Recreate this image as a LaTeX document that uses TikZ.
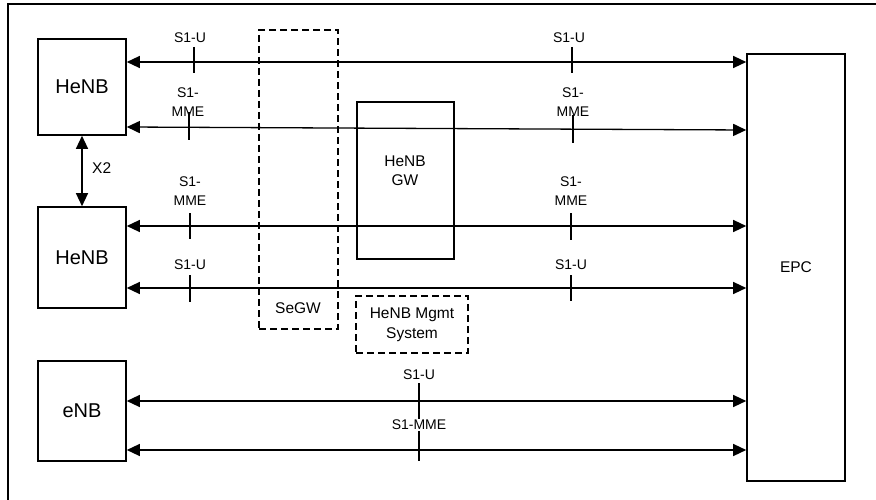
\documentclass[tikz,border=0pt]{standalone}
\usepackage{fontspec}
\setmainfont{Liberation Sans}
\usetikzlibrary{arrows.meta}
\begin{document}
\begin{tikzpicture}[x=1pt,y=-1pt,
  box/.style={draw,line width=1.6pt,inner sep=0pt,font=\fontsize{20}{24}\selectfont},
  dbox/.style={draw,line width=1.3pt,dash pattern=on 7pt off 4pt,inner sep=0pt},
  lbl/.style={inner sep=0pt,align=center,font=\fontsize{14}{19.5}\selectfont},
  mlbl/.style={inner sep=0pt,align=center,font=\fontsize{15.5}{19}\selectfont},
  link/.style={line width=1.3pt,{Triangle[length=13pt,width=12pt]}-{Triangle[length=13pt,width=12pt]}},
  tick/.style={line width=1.3pt}]
\useasboundingbox (0,0) rectangle (876,500);
\draw[line width=1.5pt] (8,500) -- (8,4) -- (876,4);
% boxes
\node[box,minimum width=88pt,minimum height=96pt] (henb1) at (82,87) {HeNB};
\node[box,minimum width=88pt,minimum height=101pt] (henb2) at (82,257.5) {HeNB};
\node[box,minimum width=88pt,minimum height=100pt] (enb) at (82,411) {eNB};
\node[box,minimum width=98pt,minimum height=427pt,font=\fontsize{15.5}{19}\selectfont] (epc) at (796,267.5) {EPC};
\node[dbox,minimum width=79pt,minimum height=299pt] (segw) at (298.5,179.5) {};
\node[mlbl] (segwt) at (298,308) {SeGW};
\node[draw,line width=1.3pt,inner sep=0pt,minimum width=97pt,minimum height=157pt] (gw) at (405.5,180.5) {};
\node[mlbl] (gwt) at (405,171) {HeNB\\GW};
\node[dbox,minimum width=112pt,minimum height=57pt,mlbl,font=\fontsize{15.5}{20}\selectfont] (mgmt) at (412,324.5) {HeNB Mgmt\\System};
% X2
\draw[link] (henb1.south) -- (henb2.north);
\node[mlbl,anchor=west] (x2) at (92,168) {X2};
% links
\draw[link] (henb1.east |- 0,62) -- (epc.west |- 0,62);
\draw[link] (henb1.east |- 0,127) -- (epc.west |- 0,130);
\draw[link] (henb2.east |- 0,226) -- (epc.west |- 0,226);
\draw[link] (henb2.east |- 0,288) -- (epc.west |- 0,288);
\draw[link] (enb.east |- 0,401) -- (epc.west |- 0,401);
\draw[link] (enb.east |- 0,450) -- (epc.west |- 0,450);
% labels and ticks
\node[lbl] (l1a) at (190,38) {S1-U};
\node[lbl] (l1b) at (569,38) {S1-U};
\draw[tick] (194,47) -- (194,73);
\draw[tick] (572,47) -- (572,73);
\node[lbl] (l2a) at (188,102) {S1-\\MME};
\node[lbl] (l2b) at (573,102) {S1-\\MME};
\draw[tick] (189,112) -- (189,140);
\draw[tick] (573,115) -- (573,143);
\node[lbl] (l3a) at (190,191) {S1-\\MME};
\node[lbl] (l3b) at (571,191) {S1-\\MME};
\draw[tick] (190,213) -- (190,239);
\draw[tick] (571,213) -- (571,240);
\node[lbl] (l4a) at (190,265) {S1-U};
\node[lbl] (l4b) at (571,265) {S1-U};
\draw[tick] (190,275) -- (190,302);
\draw[tick] (571,275) -- (571,301);
\draw[tick] (419,383) -- (419,461);
\node[lbl] (l5) at (419,375) {S1-U};
\node[lbl,fill=white,inner sep=1pt] (l6) at (419,425) {S1-MME};
\end{tikzpicture}
\end{document}
